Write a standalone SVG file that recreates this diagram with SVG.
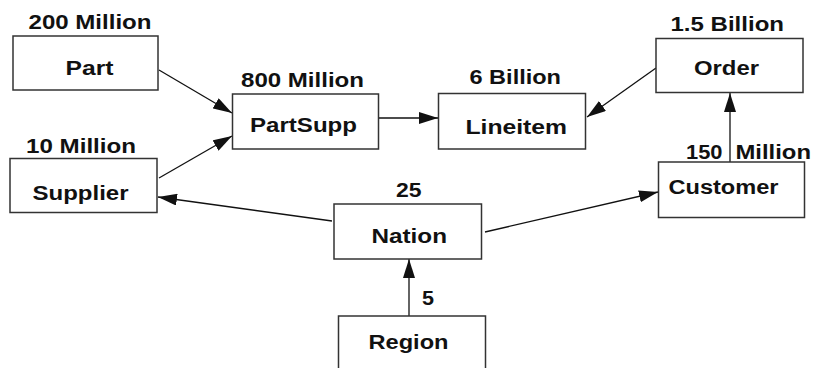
<svg xmlns="http://www.w3.org/2000/svg" width="814" height="368" viewBox="0 0 814 368">
<style>
.box{fill:#fff;stroke:#333;stroke-width:1.5}
.t{font-family:"Liberation Sans",Arial,sans-serif;font-weight:bold;font-size:20px;fill:#111}
.c{stroke:#111;stroke-width:1.3;fill:none;marker-end:url(#ah)}
</style>
<defs>
<marker id="ah" markerUnits="userSpaceOnUse" markerWidth="20" markerHeight="12" refX="19" refY="6" orient="auto">
<path d="M0,0 L19,6 L0,12 z" fill="#111"/>
</marker>
</defs>
<rect width="814" height="368" fill="#fff"/>
<g id="connectors">
<line class="c" x1="159" y1="70" x2="232" y2="113"/>
<line class="c" x1="159" y1="178" x2="232" y2="136"/>
<line class="c" x1="378" y1="118" x2="438" y2="118"/>
<line class="c" x1="656" y1="68" x2="587" y2="117"/>
<line class="c" x1="730" y1="162" x2="730" y2="93"/>
<line class="c" x1="332" y1="221" x2="158" y2="197"/>
<line class="c" x1="485" y1="232" x2="658" y2="192"/>
<line class="c" x1="409" y1="316" x2="409" y2="259"/>
</g>
<g id="part">
<text class="t" x="28.5" y="29" textLength="123" lengthAdjust="spacingAndGlyphs">200 Million</text>
<rect class="box" x="13" y="36" width="145" height="54"/>
<text class="t" x="65.5" y="75" textLength="48" lengthAdjust="spacingAndGlyphs">Part</text>
</g>
<g id="supplier">
<text class="t" x="26" y="152.5" textLength="110" lengthAdjust="spacingAndGlyphs">10 Million</text>
<rect class="box" x="10" y="158.5" width="147" height="54"/>
<text class="t" x="32.5" y="200" textLength="96" lengthAdjust="spacingAndGlyphs">Supplier</text>
</g>
<g id="partsupp">
<text class="t" x="241" y="87" textLength="123" lengthAdjust="spacingAndGlyphs">800 Million</text>
<rect class="box" x="232.5" y="94" width="146" height="55"/>
<text class="t" x="250" y="131.5" textLength="107" lengthAdjust="spacingAndGlyphs">PartSupp</text>
</g>
<g id="lineitem">
<text class="t" x="469.5" y="84" textLength="91.5" lengthAdjust="spacingAndGlyphs">6 Billion</text>
<rect class="box" x="438.5" y="93.5" width="147" height="55.5"/>
<text class="t" x="465.5" y="133.5" textLength="101.5" lengthAdjust="spacingAndGlyphs">Lineitem</text>
</g>
<g id="order">
<text class="t" x="670.5" y="30.5" textLength="113.5" lengthAdjust="spacingAndGlyphs">1.5 Billion</text>
<rect class="box" x="656" y="38.5" width="147" height="54"/>
<text class="t" x="694" y="75" textLength="65" lengthAdjust="spacingAndGlyphs">Order</text>
</g>
<g id="customer">
<text class="t" y="159"><tspan x="686" textLength="36.5" lengthAdjust="spacingAndGlyphs">150</tspan> <tspan x="735.5" textLength="75.5" lengthAdjust="spacingAndGlyphs">Million</tspan></text>
<rect class="box" x="658.5" y="162" width="146" height="55.5"/>
<text class="t" x="668.5" y="193.5" textLength="110" lengthAdjust="spacingAndGlyphs">Customer</text>
</g>
<g id="nation">
<text class="t" x="396" y="196.5" textLength="25.5" lengthAdjust="spacingAndGlyphs">25</text>
<rect class="box" x="334" y="204" width="147.5" height="55"/>
<text class="t" x="371.5" y="242.5" textLength="75.5" lengthAdjust="spacingAndGlyphs">Nation</text>
</g>
<g id="region">
<text class="t" x="422" y="305" textLength="12" lengthAdjust="spacingAndGlyphs">5</text>
<rect class="box" x="338.5" y="316" width="147" height="60"/>
<text class="t" x="368.5" y="348.5" textLength="80" lengthAdjust="spacingAndGlyphs">Region</text>
</g>
</svg>
